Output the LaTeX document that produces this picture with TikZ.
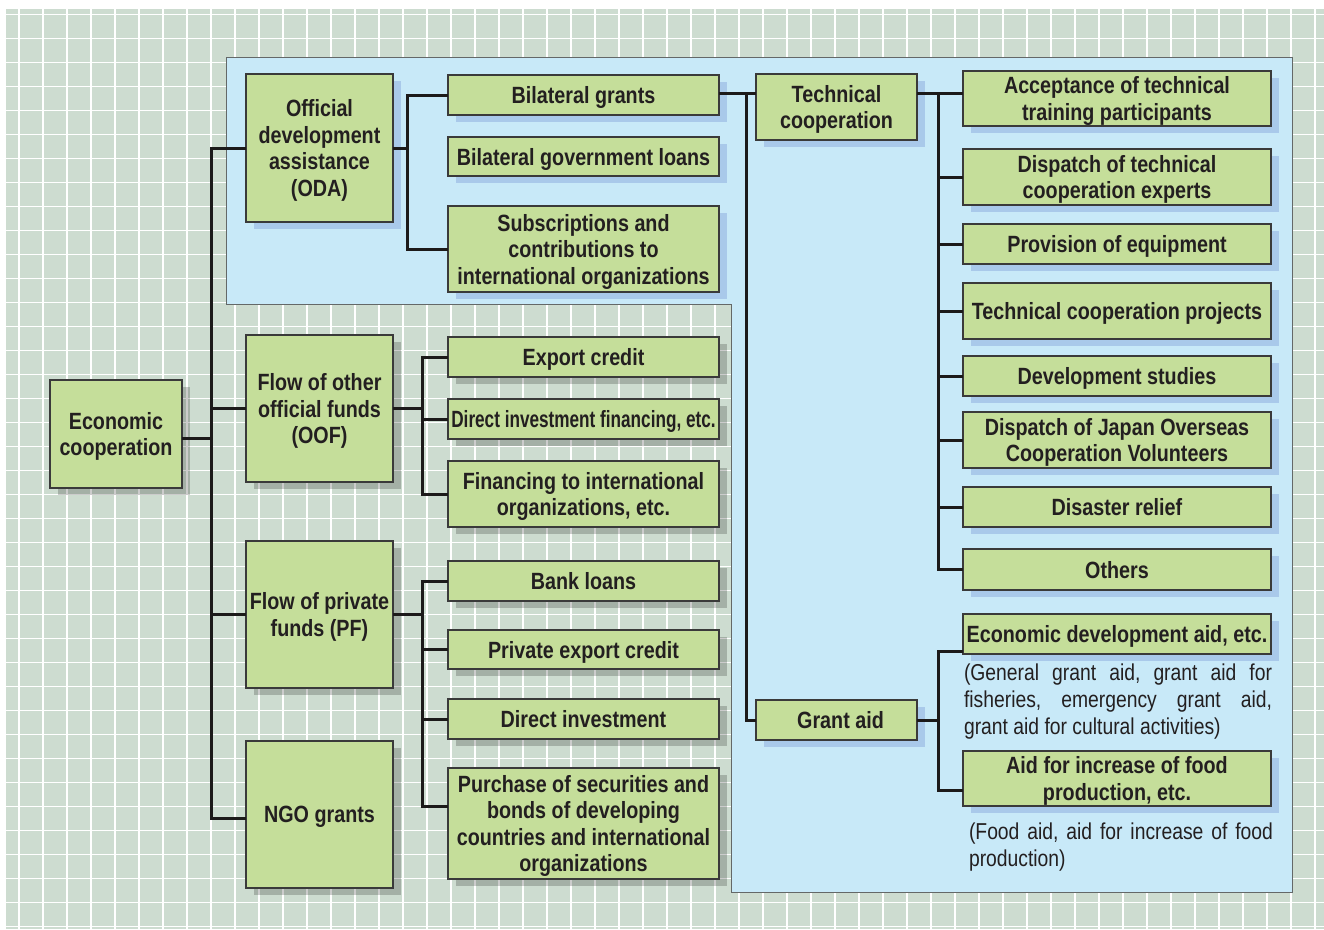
\documentclass[tikz,border=0pt]{standalone}
\usepackage{fontspec}
\setmainfont{Liberation Sans}[FakeStretch=0.84]
\usetikzlibrary{shadows}
\definecolor{gridbg}{RGB}{205,220,208}
\definecolor{bluebg}{RGB}{200,233,248}
\definecolor{boxgreen}{RGB}{197,222,154}
\definecolor{shblue}{RGB}{169,201,234}
\definecolor{boxline}{RGB}{58,58,58}
\definecolor{txt}{RGB}{35,31,32}
\definecolor{connc}{RGB}{28,26,26}
\definecolor{regline}{RGB}{100,104,104}
\begin{document}
\begin{tikzpicture}[x=1pt,y=-1pt,
  box/.style={draw=boxline, line width=1.1pt, fill=boxgreen, text=txt, inner sep=2pt, outer sep=0pt,
    anchor=north west, align=center, text depth=0pt, font=\fontsize{23.5}{26.5}\selectfont\bfseries},
  bsh/.style={box, drop shadow={shadow xshift=8pt, shadow yshift=-7pt, fill=shblue, opacity=1, draw=none}},
  gsh/.style={box, drop shadow={shadow xshift=8pt, shadow yshift=-7pt, fill=black, opacity=0.2, draw=none}},
  conn/.style={draw=connc, line width=3pt, line join=miter},
  para/.style={anchor=north west, inner sep=0pt, outer sep=0pt, text=txt,
    font=\fontsize{23}{27}\selectfont}
]
\useasboundingbox (0,0) rectangle (1324,929);
\fill[white] (0,0) rectangle (1324,929);
\fill[gridbg] (6,9) rectangle (1324,929);
\begin{scope}
\clip (6,9) rectangle (1324,929);
\foreach \i in {0,...,54} \draw[white, line width=1.4pt] ({19+24*\i},9) -- ({19+24*\i},929);
\foreach \j in {0,...,38} \draw[white, line width=1.4pt] (6,{14.5+24*\j}) -- (1324,{14.5+24*\j});
\end{scope}
% blue region
\filldraw[fill=bluebg, draw=regline, line width=1pt] (226,57) -- (1292,57) -- (1292,892) -- (731,892) -- (731,304) -- (226,304) -- cycle;

% left column
\node[gsh, minimum width=132pt, minimum height=108pt] (ec) at (50,380) {Economic\\cooperation};
\node[bsh, minimum width=147pt, minimum height=148pt] (oda) at (246,74) {Official\\development\\assistance\\(ODA)};
\node[gsh, minimum width=147pt, minimum height=147pt] (oof) at (246,335) {Flow of other\\official funds\\(OOF)};
\node[gsh, minimum width=147pt, minimum height=147pt] (pf) at (246,541) {Flow of private\\funds (PF)};
\node[gsh, minimum width=147pt, minimum height=147pt] (ngo) at (246,741) {NGO grants};

% middle column
\node[bsh, minimum width=271pt, minimum height=40pt] (bg) at (448,75) {Bilateral grants};
\node[bsh, minimum width=271pt, minimum height=39pt] (bgl) at (448,137) {Bilateral government loans};
\node[bsh, minimum width=271pt, minimum height=86pt] (sub) at (448,206) {Subscriptions and\\contributions to\\international organizations};
\node[gsh, minimum width=271pt, minimum height=40pt] (ex) at (448,337) {Export credit};
\node[gsh, minimum width=271pt, minimum height=40pt] (dif) at (448,399) {\scalebox{0.87}[1]{Direct investment financing, etc.}};
\node[gsh, minimum width=271pt, minimum height=66pt] (fin) at (448,461) {Financing to international\\organizations, etc.};
\node[gsh, minimum width=271pt, minimum height=40pt] (bl) at (448,561) {Bank loans};
\node[gsh, minimum width=271pt, minimum height=39pt] (pec) at (448,630) {Private export credit};
\node[gsh, minimum width=271pt, minimum height=40pt] (di) at (448,699) {Direct investment};
\node[gsh, minimum width=271pt, minimum height=111pt] (pur) at (448,768) {Purchase of securities and\\bonds of developing\\countries and international\\organizations};

% technical / grant
\node[bsh, minimum width=161pt, minimum height=66pt] (tc) at (756,74) {Technical\\cooperation};
\node[bsh, minimum width=161pt, minimum height=40pt] (ga) at (756,700) {\hspace*{8pt}Grant aid};

% right column
\node[bsh, minimum width=308pt, minimum height=55pt] (acc) at (963,71) {Acceptance of technical\\training participants};
\node[bsh, minimum width=308pt, minimum height=56pt] (dte) at (963,149) {Dispatch of technical\\cooperation experts};
\node[bsh, minimum width=308pt, minimum height=40pt] (poe) at (963,224) {Provision of equipment};
\node[bsh, minimum width=308pt, minimum height=56pt] (tcp) at (963,283) {Technical cooperation projects};
\node[bsh, minimum width=308pt, minimum height=40pt] (ds) at (963,356) {Development studies};
\node[bsh, minimum width=308pt, minimum height=56pt] (djo) at (963,412) {Dispatch of Japan Overseas\\Cooperation Volunteers};
\node[bsh, minimum width=308pt, minimum height=40pt] (dr) at (963,487) {Disaster relief};
\node[bsh, minimum width=308pt, minimum height=41pt] (oth) at (963,549) {Others};
\node[bsh, minimum width=308pt, minimum height=40pt] (eda) at (963,614) {Economic development aid, etc.};
\node[bsh, minimum width=308pt, minimum height=55pt] (afi) at (963,751) {Aid for increase of food\\production, etc.};

\node[para, align=left] (p1) at (964,664) {\hbox to 308pt{(General\hfill grant\hfill aid,\hfill grant\hfill aid\hfill for}\\\hbox to 308pt{fisheries,\hfill emergency\hfill grant\hfill aid,}\\grant aid for cultural activities)};
\node[para, align=left] (p2) at (969,823) {\hbox to 304pt{(Food\hfill aid,\hfill aid\hfill for\hfill increase\hfill of\hfill food}\\production)};

% connector coordinates
\coordinate (t0) at (211,0);
\coordinate (v0) at (407,0);
\coordinate (v3) at (422,0);
\coordinate (v1) at (746,0);
\coordinate (v2) at (938,0);
\coordinate (ecc) at ([yshift=-4pt]ec.east);
\coordinate (ngoc) at ([yshift=-4pt]ngo.west);
\coordinate (purc) at ([yshift=17pt]pur.west);
\coordinate (edac) at ([yshift=-17pt]eda.west);
\coordinate (afic) at ([yshift=-12pt]afi.west);
\coordinate (bgc) at ([yshift=2pt]bg.east);

% trunk
\draw[conn] (oda.west) -- (oda.west -| t0) -- (ngoc -| t0) -- (ngoc);
\draw[conn] (ecc) -- (ecc -| t0);
\draw[conn] (oof.west -| t0) -- (oof.west);
\draw[conn] (pf.west -| t0) -- (pf.west);
% ODA
\draw[conn] (oda.east) -- (oda.east -| v0);
\draw[conn] (bg.west) -- (bg.west -| v0) -- (sub.west -| v0) -- (sub.west);
% OOF
\draw[conn] (oof.east) -- (oof.east -| v3);
\draw[conn] (ex.west) -- (ex.west -| v3) -- (fin.west -| v3) -- (fin.west);
\draw[conn] (dif.west -| v3) -- (dif.west);
% PF
\draw[conn] (pf.east) -- (pf.east -| v3);
\draw[conn] (bl.west) -- (bl.west -| v3) -- (purc -| v3) -- (purc);
\draw[conn] (pec.west -| v3) -- (pec.west);
\draw[conn] (di.west -| v3) -- (di.west);
% bilateral grants to technical / grant
\draw[conn] (bgc) -- (bgc -| tc.west);
\draw[conn] (bgc -| v1) -- (ga.west -| v1) -- (ga.west);
% technical cooperation
\draw[conn] (bgc -| tc.east) -- (bgc -| acc.west);
\draw[conn] (bgc -| v2) -- (oth.west -| v2) -- (oth.west);
\foreach \n in {dte,poe,tcp,ds,djo,dr} \draw[conn] (\n.west -| v2) -- (\n.west);
% grant aid
\draw[conn] (ga.east) -- (ga.east -| v2);
\draw[conn] (edac) -- (edac -| v2) -- (afic -| v2) -- (afic);
\end{tikzpicture}
\end{document}
